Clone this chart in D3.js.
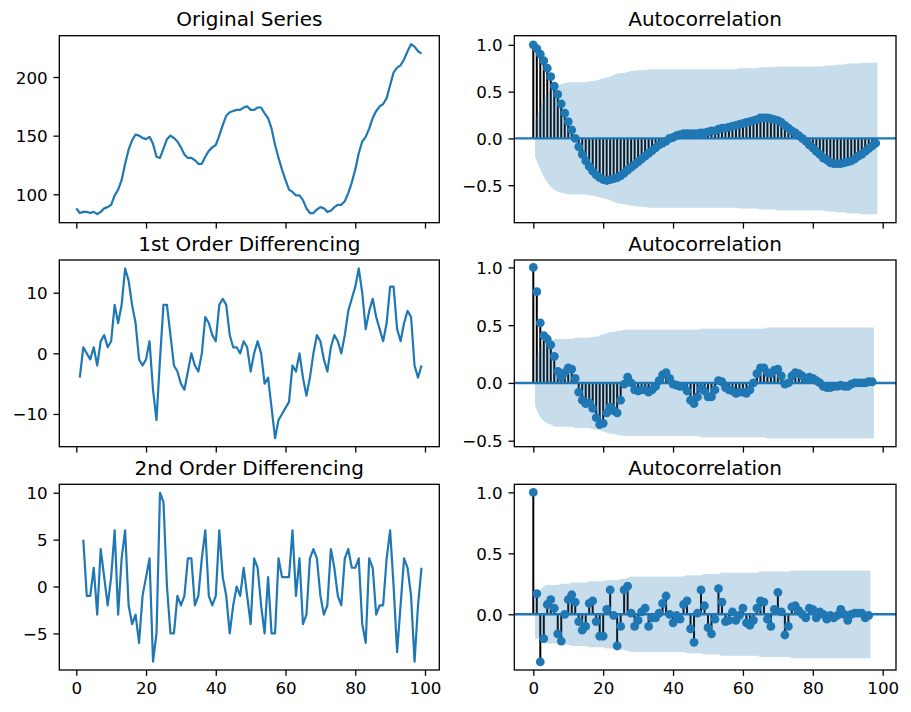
<!DOCTYPE html>
<html lang="en">
<head>
  <meta charset="UTF-8">
  <title>Differencing and Autocorrelation</title>
  <script src="https://d3js.org/d3.v7.min.js"></script>
  <style>
    body { margin: 0; background: #fff; }
    svg text { font-family: "DejaVu Sans", sans-serif; fill: #000; }
    .tick-label { font-size: 16.7px; }
    .title { font-size: 20px; }
  </style>
</head>
<body>
  <div id="chart"></div>

  <script>
    // original series (WWW usage, 100 minutes)
    const usage = [88,84,85,85,84,85,83,85,88,89,91,99,104,112,126,138,146,151,150,148,
      147,149,143,132,131,139,147,150,148,145,140,134,131,131,129,126,126,132,137,140,
      142,150,159,167,170,171,172,172,174,175,172,172,174,174,169,165,156,142,131,121,
      112,104,102,99,99,95,88,84,84,87,89,88,85,86,89,91,91,94,101,110,
      121,135,145,149,156,165,171,175,177,182,193,204,208,210,215,222,228,226,222,220];
    // 1st order differencing, starts at index 1
    const diff1 = [-4,1,0,-1,1,-2,2,3,1,2,8,5,8,14,12,8,5,-1,-2,-1,
      2,-6,-11,-1,8,8,3,-2,-3,-5,-6,-3,0,-2,-3,0,6,5,3,2,
      8,9,8,3,1,1,0,2,1,-3,0,2,0,-5,-4,-9,-14,-11,-10,-9,
      -8,-2,-3,0,-4,-7,-4,0,3,2,-1,-3,1,3,2,0,3,7,9,11,
      14,10,4,7,9,6,4,2,5,11,11,4,2,5,7,6,-2,-4,-2];
    // 2nd order differencing, starts at index 2
    const diff2 = [5,-1,-1,2,-3,4,1,-2,1,6,-3,3,6,-2,-4,-3,-6,-1,1,3,
      -8,-5,10,9,0,-5,-5,-1,-2,-1,3,3,-2,-1,3,6,-1,-2,-1,6,
      1,-1,-5,-2,0,-1,2,-1,-4,3,2,-2,-5,1,-5,-5,3,1,1,1,
      6,-1,3,-4,-3,3,4,3,-1,-3,-2,4,2,-1,-2,3,4,2,2,3,
      -4,-6,3,2,-3,-2,-2,3,6,0,-7,-2,3,2,-1,-8,-2,2];

    // autocorrelation (x100) per lag
    const acfUsage = [100,96,90,83,75,66,56,47,37,27,18,9,0,-9,-17,-24,-30,-35,-39,-42,-44,-45,-44,-43,-42,
      -40,-37,-34,-31,-28,-25,-22,-19,-16,-13,-10,-7,-5,-3,0,1,3,4,5,5,5,5,5,6,6,
      7,8,8,10,11,11,12,13,14,15,16,17,18,19,20,22,22,22,21,20,19,17,14,11,8,
      6,3,0,-3,-7,-10,-14,-17,-21,-23,-26,-27,-27,-27,-26,-25,-24,-22,-19,-17,-14,-11,-8,-5];
    const acfDiff1 = [100,79,52,41,38,33,23,10,5,9,13,12,4,-8,-15,-18,-17,-22,-30,-36,-35,-26,-21,-24,-26,
      -15,-1,5,0,-6,-7,-6,-6,-8,-6,-3,2,7,9,4,-1,-2,-3,-3,-7,-15,-18,-12,-5,-7,
      -12,-12,-6,2,1,-4,-6,-7,-9,-8,-8,-9,-6,0,8,13,13,9,8,11,12,6,-1,0,6,
      9,8,6,4,5,4,2,0,-3,-4,-4,-3,-3,-2,-3,-3,-1,0,0,0,0,1,1];
    const acfDiff2 = [100,17,-39,-20,8,12,5,-16,-22,0,12,16,10,-6,-13,-10,9,11,-6,-18,-18,4,20,-1,-26,
      -10,20,23,1,-10,-5,2,5,-10,-3,-3,1,9,15,0,-7,-1,-4,8,11,-12,-23,1,20,7,
      -11,-16,-4,21,10,-6,-5,2,-5,-1,5,-7,-9,-5,5,11,10,-4,-10,4,18,2,-17,-10,6,
      7,3,0,-3,5,4,-3,2,0,-4,-1,-3,-1,4,0,-5,0,1,1,1,-3,-1];

    // 95% confidence band half-width (x100) per lag
    const bandUsage = [0,20,33,41,47,52,55,57,58,59,60,60,60,60,60,60,61,61,62,63,64,65,66,68,69,
      70,70,71,72,72,73,73,73,74,74,74,74,74,74,74,74,74,74,74,74,74,74,74,74,74,
      74,74,74,74,74,74,74,74,74,75,75,75,75,75,75,76,76,76,76,76,77,77,77,77,77,
      77,77,77,77,77,77,77,77,77,78,78,78,79,79,79,80,80,80,80,81,81,81,81,81];
    const bandDiff1 = [0,20,30,33,35,36,38,38,38,38,38,38,39,39,39,39,39,40,40,41,42,43,44,44,45,
      45,46,46,46,46,46,46,46,46,46,46,46,46,46,46,46,46,46,46,46,46,46,46,47,47,
      47,47,47,47,47,47,47,47,47,47,47,47,47,47,47,47,47,48,48,48,48,48,48,48,48,
      48,48,48,48,48,48,48,48,48,48,48,48,48,48,48,48,48,48,48,48,48,48,48];
    const bandDiff2 = [0,20,20,23,24,24,24,24,25,25,25,26,26,26,26,26,27,27,27,27,27,28,28,28,28,
      29,29,30,31,31,31,31,31,31,31,31,31,31,31,31,31,31,31,31,32,32,32,32,32,33,
      33,33,33,33,34,34,34,34,34,34,34,34,34,34,34,35,35,35,35,35,35,35,35,35,36,
      36,36,36,36,36,36,36,36,36,36,36,36,36,36,36,36,36,36,36,36,36,36];

    const titles = ["Original Series", "1st Order Differencing", "2nd Order Differencing"];
    const xTicks = [0, 20, 40, 60, 80, 100];

    const blue = "#1f77b4";
    const rows = [[35.7, 222.7], [260, 446.7], [484.3, 670]];
    const cols = [
      { x0: 59.3, x1: 439.3, t0: 76.3, t100: 425 },
      { x0: 514.3, x1: 896, t0: 533.3, t100: 882.7 }
    ];

    const svg = d3.select("#chart").append("svg")
      .attr("width", 911)
      .attr("height", 712);

    let clipId = 0;

    function panel(col, row, yDomain, yTicks, yFmt, title, showX) {
      const c = cols[col], r = rows[row];
      const x = d3.scaleLinear().domain([0, 100]).range([c.t0, c.t100]);
      const y = d3.scaleLinear().domain(yDomain).range([r[1], r[0]]);
      const g = svg.append("g");
      const id = "clip" + (clipId++);
      g.append("clipPath").attr("id", id).append("rect")
        .attr("x", c.x0).attr("y", r[0]).attr("width", c.x1 - c.x0).attr("height", r[1] - r[0]);
      const plot = g.append("g").attr("clip-path", `url(#${id})`);

      // frame
      g.append("rect")
        .attr("x", c.x0).attr("y", r[0]).attr("width", c.x1 - c.x0).attr("height", r[1] - r[0])
        .attr("fill", "none").attr("stroke", "#000").attr("stroke-width", 1.3);

      // x axis
      const xa = g.append("g").attr("transform", `translate(0,${r[1]})`)
        .call(d3.axisBottom(x).tickValues(xTicks).tickSize(5.8).tickPadding(5.8)
          .tickFormat(showX ? d3.format("d") : () => ""));
      // y axis
      const ya = g.append("g").attr("transform", `translate(${c.x0},0)`)
        .call(d3.axisLeft(y).tickValues(yTicks).tickSize(5.8).tickPadding(5.8).tickFormat(d3.format(yFmt)));
      [xa, ya].forEach(a => {
        a.select(".domain").remove();
        a.selectAll(".tick line").attr("stroke", "#000").attr("stroke-width", 1.3);
        a.selectAll(".tick text").attr("class", "tick-label").attr("font-size", null).attr("font-family", null);
      });
      ya.selectAll(".tick text").attr("dy", "0.36em");
      xa.selectAll(".tick text").attr("dy", "0.72em");

      g.append("text").attr("class", "title")
        .attr("x", (c.x0 + c.x1) / 2).attr("y", r[0] - 9.5)
        .attr("text-anchor", "middle").text(title);

      return { x, y, plot };
    }

    function seriesPanel(row, values, start, yDomain, yTicks) {
      const p = panel(0, row, yDomain, yTicks, "d", titles[row], row === 2);
      const idx = d3.range(values.length).map(i => i + start);
      p.plot.append("path")
        .datum(values)
        .attr("fill", "none")
        .attr("stroke", blue)
        .attr("stroke-width", 2.2)
        .attr("stroke-linejoin", "round")
        .attr("d", d3.line().x((d, i) => p.x(idx[i])).y(d => p.y(d)));
    }

    function acfPanel(row, acf, band, yDomain, yTicks) {
      const p = panel(1, row, yDomain, yTicks, ".1f", "Autocorrelation", row === 2);
      const lags = d3.range(acf.length);
      // stems
      p.plot.selectAll(".stem").data(lags).enter().append("line")
        .attr("x1", d => p.x(d)).attr("x2", d => p.x(d))
        .attr("y1", p.y(0)).attr("y2", d => p.y(acf[d] / 100))
        .attr("stroke", "#000").attr("stroke-width", 2);
      // confidence band from lag 0.5 to last lag + 0.5
      const bl = lags.slice(1);
      const last = bl[bl.length - 1];
      p.plot.append("path")
        .datum(bl)
        .attr("fill", blue).attr("fill-opacity", 0.25)
        .attr("d", d3.area()
          .x(d => p.x(d === 1 ? 0.5 : d === last ? last + 0.5 : d))
          .y0(d => p.y(-band[d] / 100))
          .y1(d => p.y(band[d] / 100)));
      // zero line
      p.plot.append("line")
        .attr("x1", cols[1].x0).attr("x2", cols[1].x1)
        .attr("y1", p.y(0)).attr("y2", p.y(0))
        .attr("stroke", blue).attr("stroke-width", 2.4);
      // markers
      p.plot.selectAll(".pt").data(lags).enter().append("circle")
        .attr("cx", d => p.x(d)).attr("cy", d => p.y(acf[d] / 100))
        .attr("r", 4.4).attr("fill", blue);
    }

    seriesPanel(0, usage, 0, [75.75, 235.25], [100, 150, 200]);
    seriesPanel(1, diff1, 1, [-15.4, 15.4], [-10, 0, 10]);
    seriesPanel(2, diff2, 2, [-8.9, 10.9], [-5, 0, 5, 10]);

    acfPanel(0, acfUsage, bandUsage, [-0.901, 1.098], [-0.5, 0, 0.5, 1]);
    acfPanel(1, acfDiff1, bandDiff1, [-0.552, 1.064], [-0.5, 0, 0.5, 1]);
    acfPanel(2, acfDiff2, bandDiff2, [-0.457, 1.066], [0, 0.5, 1]);
  </script>
</body>
</html>
